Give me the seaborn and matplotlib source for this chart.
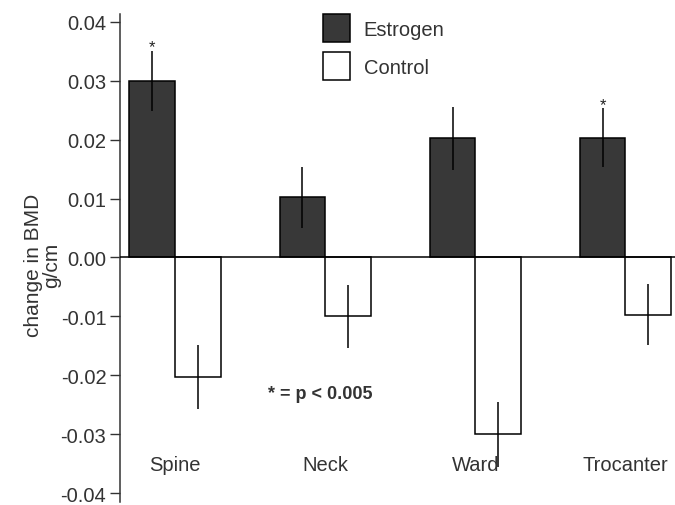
import numpy as np
import pandas as pd
import seaborn as sns
import matplotlib.pyplot as plt

# values
sites = ['Spine', 'Neck', 'Ward', 'Trocanter']
estrogen = [0.0300, 0.0102, 0.0202, 0.0203]
estrogen_err = [0.0051, 0.0052, 0.0053, 0.0050]
control = [-0.0203, -0.0100, -0.0300, -0.0097]
control_err = [0.0054, 0.0054, 0.0055, 0.0052]
starred = ['Spine', 'Trocanter']

df = pd.DataFrame({
    'site': sites * 2,
    'group': ['Estrogen'] * 4 + ['Control'] * 4,
    'change': estrogen + control,
    'err': estrogen_err + control_err,
})

sns.set_style('white')
plt.rcParams['font.family'] = ['Liberation Sans', 'DejaVu Sans']

fig = plt.figure(figsize=(6.75, 5.06), dpi=100)
ax = fig.add_axes([0.178, 0.006, 0.822, 0.964])

sns.barplot(data=df, x='site', y='change', hue='group', order=sites,
            hue_order=['Estrogen', 'Control'], width=0.61,
            palette={'Estrogen': '#383838', 'Control': 'white'},
            edgecolor='black', linewidth=1.1, errorbar=None, ax=ax)

# error bars, drawn at the centre of each bar
for cont, grp in zip(ax.containers, ['Estrogen', 'Control']):
    sub = df[df.group == grp].set_index('site').loc[sites]
    xs = [p.get_x() + p.get_width() / 2 for p in cont.patches]
    ax.errorbar(xs, sub['change'], yerr=sub['err'], fmt='none',
                ecolor='black', elinewidth=1.1, capsize=0)
    if grp == 'Estrogen':
        for x, v, e, s in zip(xs, sub['change'], sub['err'], sites):
            if s in starred:
                ax.text(x, v + e - 0.0006, '*', ha='center', va='bottom',
                        fontsize=12, color='#222222')

ax.axhline(0, color='black', lw=1.1, zorder=5)

ax.set_ylim(-0.0415, 0.0413)
ax.set_xlim(-0.367, 3.33)
ax.set_yticks(np.arange(-0.04, 0.041, 0.01))
ax.set_yticklabels(['%.2f' % v for v in np.arange(-0.04, 0.041, 0.01)],
                   fontsize=14.5, color='#333333')
ax.tick_params(axis='y', direction='out', length=7, width=1, color='#333333', pad=3, left=True)
ax.set_xticks([])
ax.set_xlabel('')
ax.set_ylabel('change in BMD\ng/cm', fontsize=15, color='#333333', linespacing=0.95)
ax.yaxis.set_label_coords(-0.106, 0.488)

for s in ['top', 'right', 'bottom']:
    ax.spines[s].set_visible(False)
ax.spines['left'].set_color('#333333')
ax.spines['left'].set_linewidth(1.1)

for i, s in enumerate(sites):
    ax.text(i, -0.0352, s, ha='center', va='center', fontsize=14.5, color='#333333')

ax.text(0.62, -0.0231, '* = p < 0.005', fontsize=13, fontweight='bold',
        color='#333333', ha='left', va='center')

leg = ax.legend(loc='upper left', bbox_to_anchor=(0.366, 1.0), frameon=False,
                fontsize=14.5, handlelength=1.35, handleheight=1.75,
                handletextpad=0.65, labelspacing=0.5, borderpad=0, borderaxespad=0)
for t in leg.get_texts():
    t.set_color('#333333')

fig.savefig('out.png', dpi=100)
